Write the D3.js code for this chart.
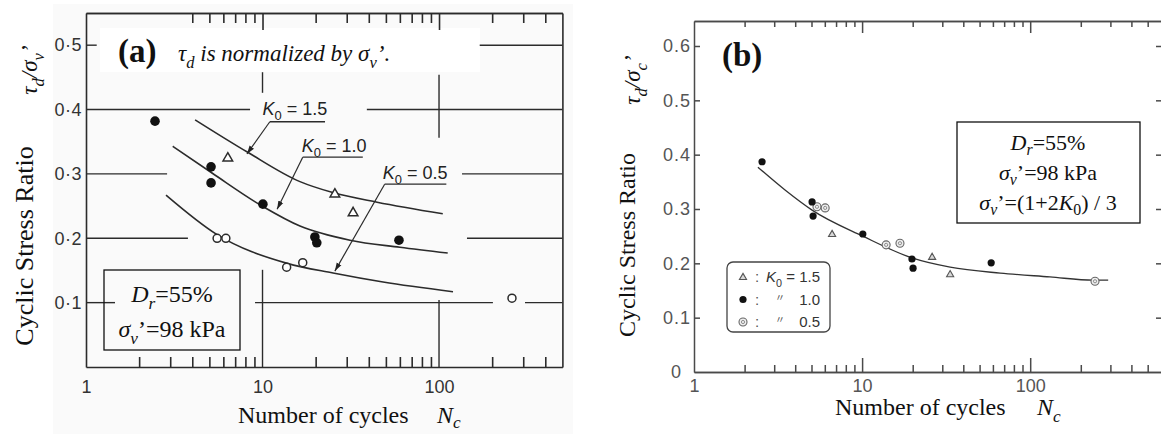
<!DOCTYPE html>
<html><head><meta charset="utf-8">
<script src="https://cdn.jsdelivr.net/npm/d3@7"></script>
<style>
html,body{margin:0;padding:0;background:#fff;}
svg{display:block;}
</style></head><body>
<svg id="fig" width="1161" height="435"></svg>
<script>
// ---------- Panel (a): cyclic stress ratio normalized by sigma_v' ----------
const aFilledN   = [2.46, 5.11, 5.11, 10.05, 19.8, 20.3, 59.3];
const aFilledCSR = [0.382, 0.311, 0.286, 0.253, 0.202, 0.193, 0.197];
const aOpenN     = [5.53, 6.2, 13.7, 16.9, 259];
const aOpenCSR   = [0.200, 0.200, 0.155, 0.162, 0.107];
const aTriN      = [6.36, 25.7, 32.6];
const aTriCSR    = [0.326, 0.270, 0.241];

// hand-fitted trend curves, one per K0
const aCurve15N   = [4.15, 8.2, 16.3, 25, 44.6, 105];
const aCurve15CSR = [0.384, 0.334, 0.288, 0.271, 0.256, 0.238];
const aCurve10N   = [3.1, 5.2, 10.1, 16.3, 31.3, 60, 112];
const aCurve10CSR = [0.343, 0.301, 0.249, 0.219, 0.197, 0.186, 0.177];
const aCurve05N   = [2.84, 5.5, 13.8, 25.1, 48.2, 120];
const aCurve05CSR = [0.267, 0.206, 0.161, 0.146, 0.132, 0.117];

// curve labels with leader arrows
const aLabelK0     = ["1.5", "1.0", "0.5"];
const aLabelN      = [10, 16.7, 48];
const aLabelCSR    = [0.392, 0.334, 0.292];
const aLeadFromN   = [11, 16.9, 49.2];
const aLeadToN     = [22.6, 37, 110];
const aLeadCSR     = [0.381, 0.326, 0.284];
const aArrowTipN   = [8.16, 12.1, 25.7];
const aArrowTipCSR = [0.331, 0.245, 0.149];

// axis ticks
const aYTicks     = [0.1, 0.2, 0.3, 0.4, 0.5];
const aYLabels    = ["0·1", "0·2", "0·3", "0·4", "0·5"];
const aXMajor     = [1, 10, 100];
const aXLabels    = ["1", "10", "100"];
const aBottomMinor = [2, 3, 4, 5, 6, 7, 8, 9, 20, 30, 40, 50, 60, 70, 80, 90, 200, 300, 400];
const aTopMinor    = [4, 5, 6, 7, 8, 9, 20, 30, 40, 50, 60, 70, 80, 90, 200, 300, 400];
const aTopMajor    = [10, 100];

// broken grid lines of the original chart
const aGridHCSR  = [0.5, 0.5, 0.4, 0.4, 0.3, 0.3, 0.2, 0.2, 0.1, 0.1, 0.1];
const aGridHFrom = [1, 170, 1, 39, 1, 135, 1, 144, 1, 9.07, 307];
const aGridHTo   = [1.15, 500, 8.5, 500, 2.88, 500, 3.78, 500, 1.46, 202, 500];
const aGridVN    = [10, 10, 100, 100];
const aGridVFrom = [0, 0.426, 0, 0.356];
const aGridVTo   = [0.151, 0.458, 0.104, 0.454];

// ---------- Panel (b): normalized by mean confining stress ----------
const bFilledN   = [2.54, 5.04, 5.11, 10.1, 19.8, 20.1, 58.6];
const bFilledCSR = [0.387, 0.313, 0.287, 0.254, 0.208, 0.191, 0.201];
const bOpenN     = [5.39, 6.03, 13.9, 16.8, 243];
const bOpenCSR   = [0.304, 0.302, 0.234, 0.237, 0.167];
const bTriN      = [6.63, 26.1, 33.4];
const bTriCSR    = [0.254, 0.212, 0.180];
const bCurveN    = [2.4, 3.48, 5.04, 10.1, 19.8, 33.4, 66.3, 131, 237, 291];
const bCurveCSR  = [0.377, 0.335, 0.298, 0.250, 0.210, 0.193, 0.182, 0.175, 0.169, 0.169];

const bYTicks     = [0, 0.1, 0.2, 0.3, 0.4, 0.5, 0.6];
const bYLabels    = ["0", "0.1", "0.2", "0.3", "0.4", "0.5", "0.6"];
const bXMajor     = [1, 10, 100];
const bXLabels    = ["1", "10", "100"];
const bMinor      = [2, 3, 4, 5, 6, 7, 8, 9, 20, 30, 40, 50, 60, 70, 80, 90, 200, 300, 400, 500];
const bMajorTicks = [10, 100];
const bLegendKind = ["tri", "filled", "open"];
const bLegendK0   = ["1.5", "1.0", "0.5"];

// ---------- drawing ----------
const SERIF = "'Liberation Serif','Times New Roman',serif";
const SANS  = "'Liberation Sans',Arial,Helvetica,sans-serif";
const svg = d3.select("#fig");

// text with italic / subscript runs: parts = [[text, flags]] (flags: i = italic, s = subscript)
function rich(parent, x, y, fs, parts, family, subShift) {
  const t = parent.append("text").attr("x", x).attr("y", y)
    .attr("font-size", fs).attr("font-family", family || SERIF).attr("fill", "#111");
  const shift = subShift === undefined ? 0.3 : subShift;
  let cur = 0;
  parts.forEach(([str, st = ""]) => {
    const sub = st.includes("s");
    const target = sub ? fs * shift : 0;
    const sp = t.append("tspan").text(str);
    if (target - cur !== 0) sp.attr("dy", target - cur);
    cur = target;
    if (sub) sp.attr("font-size", fs * 0.72);
    if (st.includes("i")) sp.attr("font-style", "italic");
  });
  return t;
}

function styleAxis(g, color, width) {
  g.selectAll("path,line").attr("stroke", color).attr("stroke-width", width);
  g.attr("font-family", SANS);
  return g;
}

svg.append("defs").append("marker")
  .attr("id", "arrowA").attr("viewBox", "0 0 10 10").attr("refX", 10).attr("refY", 5)
  .attr("markerWidth", 7).attr("markerHeight", 7).attr("orient", "auto")
  .append("path").attr("d", "M0,1.8L10,5L0,8.2Z").attr("fill", "#222");

// ===== panel (a) =====
const xA = d3.scaleLog().domain([1, 500]).range([86, 562.4]);
const yA = d3.scaleLinear().domain([0, 0.55]).range([367, 13]);
const gA = svg.append("g");
const inkA = "#2b2b2b";

// faint paper tone of the scanned plot
gA.append("rect").attr("x", 53).attr("y", 4).attr("width", 520).attr("height", 430).attr("fill", "#fafafa");
gA.append("rect").attr("x", 100).attr("y", 28).attr("width", 380).attr("height", 44).attr("fill", "#fff");

// grid pieces
gA.append("g").selectAll("line").data(d3.range(aGridHCSR.length)).join("line")
  .attr("x1", i => xA(aGridHFrom[i])).attr("x2", i => xA(aGridHTo[i]))
  .attr("y1", i => yA(aGridHCSR[i])).attr("y2", i => yA(aGridHCSR[i]))
  .attr("stroke", inkA).attr("stroke-width", 1.4);
gA.append("g").selectAll("line").data(d3.range(aGridVN.length)).join("line")
  .attr("x1", i => xA(aGridVN[i])).attr("x2", i => xA(aGridVN[i]))
  .attr("y1", i => yA(aGridVFrom[i])).attr("y2", i => yA(aGridVTo[i]))
  .attr("stroke", inkA).attr("stroke-width", 1.4);

// frame and ticks
styleAxis(gA.append("g").attr("transform", "translate(0,367)")
  .call(d3.axisBottom(xA).tickValues(aBottomMinor).tickSize(-10).tickSizeOuter(0).tickFormat("")), inkA, 1.6);
styleAxis(gA.append("g").attr("transform", "translate(0,13)")
  .call(d3.axisTop(xA).tickValues(aTopMinor).tickSize(-10).tickSizeOuter(0).tickFormat("")), inkA, 1.6);
styleAxis(gA.append("g").attr("transform", "translate(0,13)")
  .call(d3.axisTop(xA).tickValues(aTopMajor).tickSize(-17).tickSizeOuter(0).tickFormat("")), inkA, 1.6);
styleAxis(gA.append("g").attr("transform", "translate(86,0)")
  .call(d3.axisLeft(yA).tickValues([]).tickSizeOuter(0)), inkA, 1.6);
styleAxis(gA.append("g").attr("transform", `translate(${xA(500)},0)`)
  .call(d3.axisRight(yA).tickValues([]).tickSizeOuter(0)), inkA, 1.6);

// tick labels
const aYAx = gA.append("g").attr("transform", "translate(86,0)")
  .call(d3.axisLeft(yA).tickValues(aYTicks).tickFormat((d, i) => aYLabels[i]).tickSize(0).tickPadding(4));
aYAx.select(".domain").remove();
aYAx.attr("font-family", SANS).attr("font-size", 18);
aYAx.selectAll("text").attr("fill", "#333").attr("letter-spacing", 0.5);
const aXAx = gA.append("g").attr("transform", "translate(0,367)")
  .call(d3.axisBottom(xA).tickValues(aXMajor).tickFormat((d, i) => aXLabels[i]).tickSize(0).tickPadding(13.5));
aXAx.select(".domain").remove();
aXAx.attr("font-family", SANS).attr("font-size", 18);
aXAx.selectAll("text").attr("fill", "#333");

// trend curves
const lineA = (N, C) => d3.line().x(i => xA(N[i])).y(i => yA(C[i])).curve(d3.curveMonotoneX)(d3.range(N.length));
[[aCurve15N, aCurve15CSR], [aCurve10N, aCurve10CSR], [aCurve05N, aCurve05CSR]].forEach(([N, C]) => {
  gA.append("path").attr("d", lineA(N, C)).attr("fill", "none").attr("stroke", inkA).attr("stroke-width", 1.6);
});

// curve labels + leaders
aLabelK0.forEach((k, i) => {
  rich(gA, xA(aLabelN[i]), yA(aLabelCSR[i]), 18, [["K", "i"], ["0", "s"], [" = " + k]], SANS).attr("fill", "#222");
  gA.append("line").attr("x1", xA(aLeadFromN[i])).attr("x2", xA(aLeadToN[i]))
    .attr("y1", yA(aLeadCSR[i])).attr("y2", yA(aLeadCSR[i])).attr("stroke", inkA).attr("stroke-width", 1.3);
  gA.append("line").attr("x1", xA(aLeadFromN[i])).attr("y1", yA(aLeadCSR[i]))
    .attr("x2", xA(aArrowTipN[i])).attr("y2", yA(aArrowTipCSR[i]))
    .attr("stroke", inkA).attr("stroke-width", 1.2).attr("marker-end", "url(#arrowA)");
});

// data points
gA.append("g").selectAll("path").data(d3.range(aTriN.length)).join("path")
  .attr("transform", i => `translate(${xA(aTriN[i])},${yA(aTriCSR[i]) + 1})`)
  .attr("d", d3.symbol(d3.symbolTriangle, 40)).attr("fill", "#fff").attr("stroke", inkA).attr("stroke-width", 1.5);
gA.append("g").selectAll("circle").data(d3.range(aOpenN.length)).join("circle")
  .attr("cx", i => xA(aOpenN[i])).attr("cy", i => yA(aOpenCSR[i])).attr("r", 4)
  .attr("fill", "#fff").attr("stroke", inkA).attr("stroke-width", 1.5);
gA.append("g").selectAll("circle").data(d3.range(aFilledN.length)).join("circle")
  .attr("cx", i => xA(aFilledN[i])).attr("cy", i => yA(aFilledCSR[i])).attr("r", 4.8)
  .attr("fill", "#111");

// headings and titles
svg.append("text").attr("x", 118).attr("y", 62).attr("font-family", SERIF).attr("font-size", 33)
  .attr("font-weight", "bold").attr("fill", "#111").text("(a)");
rich(svg, 178, 61, 23, [["τ", "i"], ["d", "is"], [" is normalized by σ", "i"], ["v", "is"], ["’.", "i"]]);
rich(svg, 0, 0, 26, [["Cyclic Stress Ratio"]]).attr("text-anchor", "middle")
  .attr("transform", "translate(33,246) rotate(-90)");
rich(svg, 0, 0, 23, [["τ", "i"], ["d", "is"], ["/σ", "i"], ["v", "is"], ["’", "i"]]).attr("text-anchor", "middle")
  .attr("transform", "translate(37,70) rotate(-90)");
rich(svg, 238, 423, 24, [["Number of cycles"]]);
rich(svg, 437, 423, 24, [["N", "i"], ["c", "is"]], SERIF, 0.22);

// condition box (a)
svg.append("rect").attr("x", 104).attr("y", 270).attr("width", 136).attr("height", 80)
  .attr("fill", "none").attr("stroke", "#111").attr("stroke-width", 1.3);
rich(svg, 172, 302, 24, [["D", "i"], ["r", "is"], ["=55%"]]).attr("text-anchor", "middle");
rich(svg, 172, 337, 24, [["σ", "i"], ["v", "is"], ["’=98 kPa"]]).attr("text-anchor", "middle");

// ===== panel (b) =====
const xB = d3.scaleLog().domain([1, 600]).range([694, 1161]);
const yB = d3.scaleLinear().domain([0, 0.646]).range([372, 21]);
const gB = svg.append("g");
const inkB = "#4a4a4a";

styleAxis(gB.append("g").attr("transform", "translate(0,372)")
  .call(d3.axisBottom(xB).tickValues(bMinor).tickSize(-7).tickSizeOuter(0).tickFormat("")), inkB, 1.5);
styleAxis(gB.append("g").attr("transform", "translate(0,372)")
  .call(d3.axisBottom(xB).tickValues(bMajorTicks).tickSize(-14).tickSizeOuter(0).tickFormat("")), inkB, 1.5);
styleAxis(gB.append("g").attr("transform", "translate(0,21)")
  .call(d3.axisTop(xB).tickValues(bMinor).tickSize(-6).tickSizeOuter(0).tickFormat("")), inkB, 1.5);
styleAxis(gB.append("g").attr("transform", "translate(0,21)")
  .call(d3.axisTop(xB).tickValues(bMajorTicks).tickSize(-12).tickSizeOuter(0).tickFormat("")), inkB, 1.5);
styleAxis(gB.append("g").attr("transform", "translate(694,0)")
  .call(d3.axisLeft(yB).tickValues(bYTicks.slice(1)).tickSize(-6).tickSizeOuter(0).tickFormat("")), inkB, 1.5);
styleAxis(gB.append("g").attr("transform", "translate(1165,0)")
  .call(d3.axisRight(yB).tickValues(bYTicks.slice(1)).tickSize(-9).tickSizeOuter(0).tickFormat("")), inkB, 1.5);

const bYAx = gB.append("g").attr("transform", "translate(694,0)")
  .call(d3.axisLeft(yB).tickValues(bYTicks).tickFormat((d, i) => bYLabels[i]).tickSize(0).tickPadding(3));
bYAx.select(".domain").remove();
bYAx.attr("font-family", SANS).attr("font-size", 18);
bYAx.selectAll("text").attr("fill", "#555").attr("letter-spacing", 1)
  .attr("dx", d => d === 0 ? -9 : 0);
const bXAx = gB.append("g").attr("transform", "translate(0,372)")
  .call(d3.axisBottom(xB).tickValues(bXMajor).tickFormat((d, i) => bXLabels[i]).tickSize(0).tickPadding(7.5));
bXAx.select(".domain").remove();
bXAx.attr("font-family", SANS).attr("font-size", 18);
bXAx.selectAll("text").attr("fill", "#555");

gB.append("path")
  .attr("d", d3.line().x(i => xB(bCurveN[i])).y(i => yB(bCurveCSR[i])).curve(d3.curveMonotoneX)(d3.range(bCurveN.length)))
  .attr("fill", "none").attr("stroke", "#333").attr("stroke-width", 1.3);

function symB(g, kind, x, y) {
  if (kind === "tri") {
    g.append("path").attr("transform", `translate(${x},${y + 0.5})`)
      .attr("d", d3.symbol(d3.symbolTriangle, 22)).attr("fill", "#d8d8d8").attr("stroke", "#555").attr("stroke-width", 1.1);
  } else if (kind === "filled") {
    g.append("circle").attr("cx", x).attr("cy", y).attr("r", 3.6).attr("fill", "#111");
  } else {
    g.append("circle").attr("cx", x).attr("cy", y).attr("r", 4).attr("fill", "#eee").attr("stroke", "#666").attr("stroke-width", 1.1);
    g.append("circle").attr("cx", x).attr("cy", y).attr("r", 1.6).attr("fill", "none").attr("stroke", "#777").attr("stroke-width", 0.8);
  }
}
d3.range(bTriN.length).forEach(i => symB(gB, "tri", xB(bTriN[i]), yB(bTriCSR[i])));
d3.range(bOpenN.length).forEach(i => symB(gB, "open", xB(bOpenN[i]), yB(bOpenCSR[i])));
d3.range(bFilledN.length).forEach(i => symB(gB, "filled", xB(bFilledN[i]), yB(bFilledCSR[i])));

// legend (b)
const legB = gB.append("g");
legB.append("rect").attr("x", 727).attr("y", 262).attr("width", 103).attr("height", 70).attr("rx", 6)
  .attr("fill", "#fff").attr("stroke", "#444").attr("stroke-width", 1.3);
const legRowY = [277, 299.5, 322];
bLegendKind.forEach((kind, i) => {
  symB(legB, kind, 743, legRowY[i]);
  legB.append("text").attr("x", 757).attr("y", legRowY[i] + 5).attr("text-anchor", "middle")
    .attr("font-family", SANS).attr("font-size", 15).attr("fill", "#555").text(":");
  if (i === 0) {
    rich(legB, 820, legRowY[i] + 5, 15, [["K", "i"], ["0", "s"], [" = " + bLegendK0[i]]], SANS)
      .attr("text-anchor", "end").attr("fill", "#333");
  } else {
    legB.append("text").attr("x", 780).attr("y", legRowY[i] + 1).attr("text-anchor", "middle")
      .attr("font-family", "'Noto Sans CJK JP',sans-serif").attr("font-size", 10).attr("fill", "#555").text("〃");
    legB.append("text").attr("x", 820).attr("y", legRowY[i] + 5).attr("text-anchor", "end")
      .attr("font-family", SANS).attr("font-size", 15).attr("fill", "#333").text(bLegendK0[i]);
  }
});

svg.append("text").attr("x", 722).attr("y", 66).attr("font-family", SERIF).attr("font-size", 33)
  .attr("font-weight", "bold").attr("fill", "#111").text("(b)");
rich(svg, 0, 0, 24, [["Cyclic Stress Ratio"]]).attr("text-anchor", "middle")
  .attr("transform", "translate(635,245) rotate(-90)");
rich(svg, 0, 0, 23, [["τ", "i"], ["d", "is"], ["/σ", "i"], ["c", "is"], ["’", "i"]]).attr("text-anchor", "middle")
  .attr("transform", "translate(640,80) rotate(-90)");
rich(svg, 835, 415, 24, [["Number of cycles"]]);
rich(svg, 1037, 415, 24, [["N", "i"], ["c", "is"]]);

// condition box (b)
svg.append("rect").attr("x", 957).attr("y", 122).attr("width", 183).attr("height", 101)
  .attr("fill", "#fff").attr("stroke", "#111").attr("stroke-width", 1.3);
rich(svg, 1048, 150, 22, [["D", "i"], ["r", "is"], ["=55%"]], SERIF, 0.22).attr("text-anchor", "middle");
rich(svg, 1048, 180, 22, [["σ", "i"], ["v", "is"], ["’=98 kPa"]], SERIF, 0.22).attr("text-anchor", "middle");
rich(svg, 1048, 210, 22, [["σ", "i"], ["v", "is"], ["’=(1+2"], ["K", "i"], ["0", "s"], [") / 3"]], SERIF, 0.22).attr("text-anchor", "middle");
</script>
</body></html>
